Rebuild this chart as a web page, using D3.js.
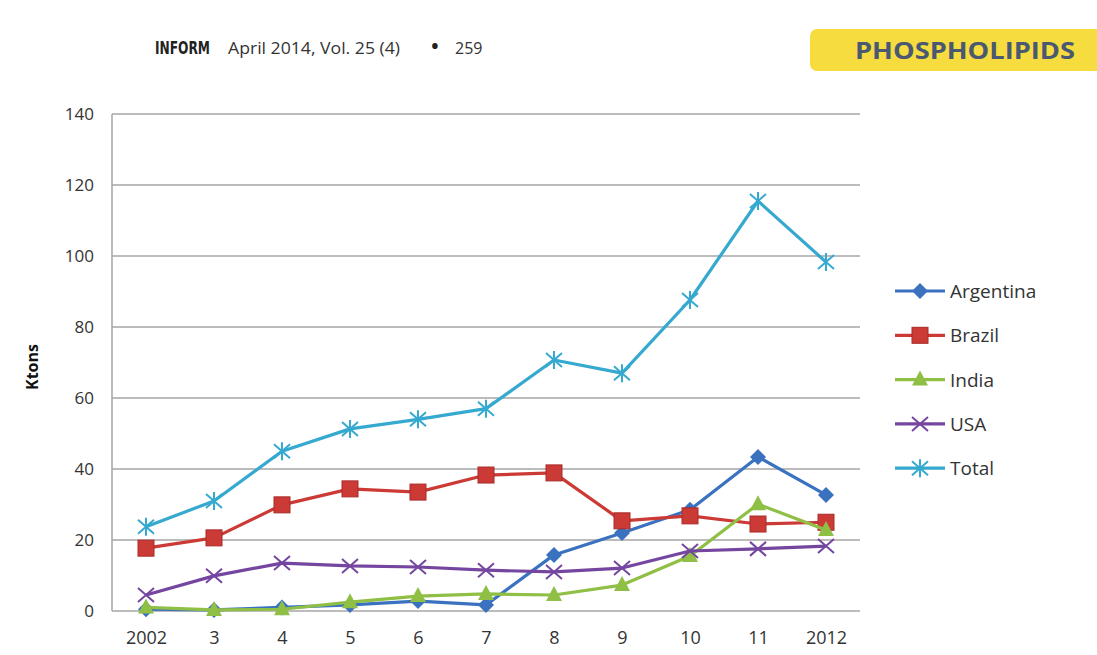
<!DOCTYPE html>
<html><head><meta charset="utf-8">
<script src="https://cdn.jsdelivr.net/npm/d3@7"></script>
<style>body{margin:0;background:#fff;}svg{display:block;}</style>
</head><body>
<script>
const years = ["2002","3","4","5","6","7","8","9","10","11","2012"];
const yTicks = [0,20,40,60,80,100,120,140];
const argentina = [0.5,0.3,1.0,1.7,2.8,1.7,15.8,22,28.5,43.4,32.7];
const brazil = [17.7,20.6,29.9,34.4,33.5,38.3,38.9,25.4,26.8,24.5,25];
const india = [1,0.3,0.5,2.5,4.2,4.8,4.5,7.3,15.5,30.1,22.8];
const usa = [4.5,9.9,13.5,12.7,12.4,11.5,11,12.1,16.9,17.5,18.3];
const total = [23.7,31,45,51.3,54,57,70.7,67,87.6,115.5,98.3];
const seriesNames = ["Argentina","Brazil","India","USA","Total"];
const seriesColors = ["#3b72c0","#cc3a36","#8fbf45","#7446a0","#35a9cf"];
const seriesMarkers = ["diamond","square","triangle","x","star"];
const seriesData = [argentina,brazil,india,usa,total];

(function(){
const W=1097,H=655;
const svg=d3.select("body").append("svg").attr("width",W).attr("height",H);
const font="'Open Sans', 'Liberation Sans', sans-serif";

// header
svg.append("text").attr("x",155).attr("y",54).attr("font-family","'Liberation Sans Narrow','DejaVu Sans Condensed',sans-serif")
  .attr("font-size",17).attr("font-weight","bold").attr("fill","#222").attr("textLength",55).attr("lengthAdjust","spacingAndGlyphs").text("INFORM");
svg.append("text").attr("x",228).attr("y",54).attr("font-family",font).attr("font-size",16).attr("fill","#333")
  .attr("textLength",172).attr("lengthAdjust","spacingAndGlyphs").text("April 2014, Vol. 25 (4)");
svg.append("text").attr("x",435).attr("y",55).attr("text-anchor","middle").attr("font-family",font).attr("font-size",26).attr("fill","#222").text("•");
svg.append("text").attr("x",455).attr("y",54).attr("font-family",font).attr("font-size",16).attr("fill","#333").text("259");
svg.append("rect").attr("x",810).attr("y",29).attr("width",300).attr("height",42).attr("rx",7).attr("fill","#f6dc3e");
svg.append("text").attr("x",855).attr("y",59).attr("font-family",font)
  .attr("font-size",23).attr("font-weight","bold").attr("fill","#4a5872").attr("textLength",220).attr("lengthAdjust","spacingAndGlyphs").text("PHOSPHOLIPIDS");

const pl=112,pr=860,pt=114,pb=611;
const x=d3.scalePoint().domain(years).range([pl,pr]).padding(0.5);
const y=d3.scaleLinear().domain([0,140]).range([pb,pt]);

// grid
svg.append("g").selectAll("line").data(yTicks).join("line")
  .attr("x1",pl).attr("x2",pr).attr("y1",d=>y(d)).attr("y2",d=>y(d))
  .attr("stroke","#a6a6a6").attr("stroke-width",1.5);
svg.append("line").attr("x1",pl).attr("x2",pl).attr("y1",pt).attr("y2",pb).attr("stroke","#a6a6a6").attr("stroke-width",1.5);

const yAxis=svg.append("g").attr("transform",`translate(${pl},0)`).call(d3.axisLeft(y).tickValues(yTicks).tickSize(0).tickPadding(18));
yAxis.select(".domain").remove();
yAxis.selectAll("text").attr("font-family",font).attr("font-size",17).attr("fill","#333");
const xAxis=svg.append("g").attr("transform",`translate(0,${pb})`).call(d3.axisBottom(x).tickSize(0).tickPadding(20));
xAxis.select(".domain").remove();
xAxis.selectAll("text").attr("font-family",font).attr("font-size",18).attr("fill","#333");

svg.append("text").attr("transform","translate(38,367) rotate(-90)").attr("text-anchor","middle")
  .attr("font-family",font).attr("font-size",16).attr("font-weight","bold").attr("fill","#111").text("Ktons");

function marker(g,type,cx,cy,color){
  if(type==="diamond"){
    g.append("path").attr("d",`M${cx},${cy-8}L${cx+8},${cy}L${cx},${cy+8}L${cx-8},${cy}Z`).attr("fill",color);
  } else if(type==="square"){
    g.append("rect").attr("x",cx-8).attr("y",cy-8).attr("width",16).attr("height",16).attr("fill",color).attr("stroke","#a82a28").attr("stroke-width",1);
  } else if(type==="triangle"){
    g.append("path").attr("d",`M${cx},${cy-9}L${cx+8},${cy+6}L${cx-8},${cy+6}Z`).attr("fill",color);
  } else if(type==="x"){
    g.append("path").attr("d",`M${cx-8},${cy-7}L${cx+8},${cy+7}M${cx-8},${cy+7}L${cx+8},${cy-7}`).attr("stroke",color).attr("stroke-width",2);
  } else {
    g.append("path").attr("d",`M${cx-8},${cy-7}L${cx+8},${cy+7}M${cx-8},${cy+7}L${cx+8},${cy-7}M${cx},${cy-9}L${cx},${cy+9}`).attr("stroke",color).attr("stroke-width",2);
  }
}

const line=d3.line().x((d,i)=>x(years[i])).y(d=>y(d));
[0,1,2,3,4].forEach(k=>{
  const g=svg.append("g");
  g.append("path").datum(seriesData[k]).attr("d",line).attr("fill","none").attr("stroke",seriesColors[k]).attr("stroke-width",3.2).attr("stroke-linejoin","round");
  seriesData[k].forEach((v,i)=>marker(g,seriesMarkers[k],x(years[i]),y(v),seriesColors[k]));
});

// legend
seriesNames.forEach((n,i)=>{
  const ly=291+i*44.3;
  const g=svg.append("g");
  g.append("line").attr("x1",895).attr("x2",945).attr("y1",ly).attr("y2",ly).attr("stroke",seriesColors[i]).attr("stroke-width",3.2);
  marker(g,seriesMarkers[i],920,ly,seriesColors[i]);
  g.append("text").attr("x",950).attr("y",ly+7).attr("font-family",font).attr("font-size",19).attr("fill","#333").text(n);
});
})();
</script>
</body></html>
